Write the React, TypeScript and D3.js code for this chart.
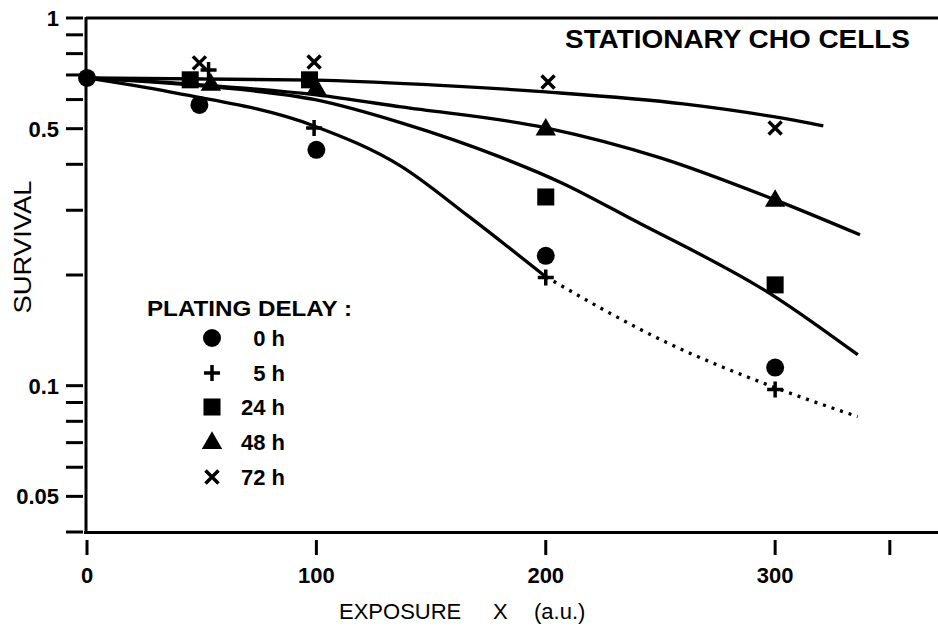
import React from "react";
import * as d3 from "d3";

// ---- data ----
const delays = ["0 h", "5 h", "24 h", "48 h", "72 h"];
const markerKinds = ["circle", "plus", "square", "triangle", "cross"];

const pts0hX = [0, 49, 100, 200, 300];
const pts0hY = [0.687, 0.58, 0.438, 0.2256, 0.112];
const pts5hX = [53, 99, 200, 300];
const pts5hY = [0.722, 0.502, 0.197, 0.0976];
const pts24hX = [45, 97, 200, 300];
const pts24hY = [0.679, 0.679, 0.326, 0.188];
const pts48hX = [54, 100, 200, 300];
const pts48hY = [0.662, 0.645, 0.5, 0.32];
const pts72hX = [49, 99, 201, 300];
const pts72hY = [0.755, 0.759, 0.67, 0.502];

const fit72X = [0, 100, 150, 200, 260, 300, 321];
const fit72Y = [0.687, 0.678, 0.658, 0.6294, 0.584, 0.538, 0.5087];
const fit48X = [0, 50, 100, 137, 200, 250, 300, 337];
const fit48Y = [0.687, 0.658, 0.6177, 0.573, 0.5027, 0.4165, 0.3201, 0.2572];
const fit24X = [0, 50, 100, 137, 180, 207, 238, 300, 336];
const fit24Y = [0.687, 0.6533, 0.5985, 0.5185, 0.419, 0.356, 0.2826, 0.1745, 0.1214];
const fit0X = [0, 36, 99, 137, 166, 200];
const fit0Y = [0.687, 0.6294, 0.5087, 0.395, 0.29, 0.1978];
const fit0DotX = [200, 253, 300, 336];
const fit0DotY = [0.1978, 0.1308, 0.0988, 0.0824];

const xTicks = [0, 100, 200, 300, 350];
const xTickLabels = ["0", "100", "200", "300", ""];
const yMajor = [1, 0.5, 0.1, 0.05];
const yMajorLabels = ["1", "0.5", "0.1", "0.05"];
const yMinor = [0.9, 0.8, 0.7, 0.6, 0.4, 0.3, 0.2, 0.09, 0.08, 0.07, 0.06, 0.04];

const title = "STATIONARY CHO CELLS";
const yTitle = "SURVIVAL";
const legendTitle = "PLATING DELAY :";

// ---- layout ----
const W = 938;
const H = 629;
const x = d3.scaleLinear().domain([0, 371]).range([87, 938]);
const y = d3.scaleLog().domain([0.04, 1]).range([532, 18]);

const FONT = "'Liberation Sans', Arial, Helvetica, sans-serif";

function Marker({ kind, cx, cy, s = 1 }: { kind: string; cx: number; cy: number; s?: number }) {
  if (kind === "circle") return <circle cx={cx} cy={cy} r={9 * s} fill="#000" />;
  if (kind === "square") {
    const p = d3.symbol(d3.symbolSquare, 290 * s * s)();
    return <path d={p || ""} transform={`translate(${cx},${cy})`} fill="#000" />;
  }
  if (kind === "triangle") {
    const p = d3.symbol(d3.symbolTriangle, 180 * s * s)();
    return <path d={p || ""} transform={`translate(${cx},${cy + 1})`} fill="#000" />;
  }
  if (kind === "plus") {
    const a = 8 * s;
    return (
      <path
        d={`M${cx - a},${cy}H${cx + a}M${cx},${cy - a}V${cy + a}`}
        stroke="#000"
        strokeWidth={3.5}
        fill="none"
      />
    );
  }
  const a = 6.5 * s;
  return (
    <path
      d={`M${cx - a},${cy - a}L${cx + a},${cy + a}M${cx + a},${cy - a}L${cx - a},${cy + a}`}
      stroke="#000"
      strokeWidth={3.5}
      fill="none"
    />
  );
}

export default function App() {
  const line = d3
    .line<[number, number]>()
    .x((d) => x(d[0]))
    .y((d) => y(d[1]))
    .curve(d3.curveMonotoneX);

  const zipPts = (xs: number[], ys: number[]) => xs.map((v, i) => [v, ys[i]] as [number, number]);

  const solidFits = [
    zipPts(fit72X, fit72Y),
    zipPts(fit48X, fit48Y),
    zipPts(fit24X, fit24Y),
    zipPts(fit0X, fit0Y),
  ];
  const dotFit = zipPts(fit0DotX, fit0DotY);

  const series = [
    { kind: "circle", pts: zipPts(pts0hX, pts0hY) },
    { kind: "plus", pts: zipPts(pts5hX, pts5hY) },
    { kind: "square", pts: zipPts(pts24hX, pts24hY) },
    { kind: "triangle", pts: zipPts(pts48hX, pts48hY) },
    { kind: "cross", pts: zipPts(pts72hX, pts72hY) },
  ];

  const legendRowY = [338, 373, 407, 442, 477];

  return (
    <svg
      width={W}
      height={H}
      style={{ position: "absolute", left: 0, top: 0, background: "#fff" }}
      fontFamily={FONT}
    >
      <rect x={0} y={0} width={W} height={H} fill="#fff" />
      {/* frame */}
      <line x1={86} y1={18} x2={938} y2={18} stroke="#000" strokeWidth={3} />
      <line x1={86} y1={17} x2={86} y2={534} stroke="#000" strokeWidth={3} />
      <line x1={84} y1={532.5} x2={938} y2={532.5} stroke="#000" strokeWidth={3} />

      {/* y ticks */}
      {yMajor.concat(yMinor).map((v, i) => (
        <line key={"yt" + i} x1={66} x2={83} y1={y(v)} y2={y(v)} stroke="#000" strokeWidth={3} />
      ))}
      {yMajor.map((v, i) => (
        <text
          key={"yl" + i}
          x={59}
          y={y(v) + 8}
          textAnchor="end"
          fontSize={22}
          fontWeight="bold"
        >
          {yMajorLabels[i]}
        </text>
      ))}

      {/* x ticks */}
      {xTicks.map((v, i) => (
        <g key={"xt" + i}>
          <line x1={x(v)} x2={x(v)} y1={540} y2={555} stroke="#000" strokeWidth={3} />
          <text x={x(v)} y={583} textAnchor="middle" fontSize={22} fontWeight="bold">
            {xTickLabels[i]}
          </text>
        </g>
      ))}

      {/* axis titles */}
      <text x={339} y={619} fontSize={22}>EXPOSURE</text>
      <text x={493} y={619} fontSize={22}>X</text>
      <text x={534} y={619} fontSize={22}>(a.u.)</text>
      <text
        transform="translate(31,247) rotate(-90)"
        textAnchor="middle"
        fontSize={24}
        textLength={133}
        lengthAdjust="spacingAndGlyphs"
      >
        {yTitle}
      </text>

      {/* title */}
      <text x={565} y={48} fontSize={26} fontWeight="bold" textLength={345} lengthAdjust="spacingAndGlyphs">
        {title}
      </text>

      {/* fitted curves */}
      {solidFits.map((pts, i) => (
        <path key={"fit" + i} d={line(pts) || ""} fill="none" stroke="#000" strokeWidth={3.3} />
      ))}
      <path
        d={line(dotFit) || ""}
        fill="none"
        stroke="#000"
        strokeWidth={3.3}
        strokeDasharray="3 6"
      />

      {/* data markers */}
      {series.map((s, si) =>
        s.pts.map((p, pi) => (
          <Marker key={`m${si}-${pi}`} kind={s.kind} cx={x(p[0])} cy={y(p[1])} />
        ))
      )}

      {/* legend */}
      <text x={147} y={316} fontSize={22} fontWeight="bold" textLength={205} lengthAdjust="spacingAndGlyphs">
        {legendTitle}
      </text>
      {delays.map((d, i) => (
        <g key={"lg" + i}>
          <Marker kind={markerKinds[i]} cx={212} cy={legendRowY[i]} />
          <text x={285} y={legendRowY[i] + 8} textAnchor="end" fontSize={22} fontWeight="bold">
            {d}
          </text>
        </g>
      ))}
    </svg>
  );
}
